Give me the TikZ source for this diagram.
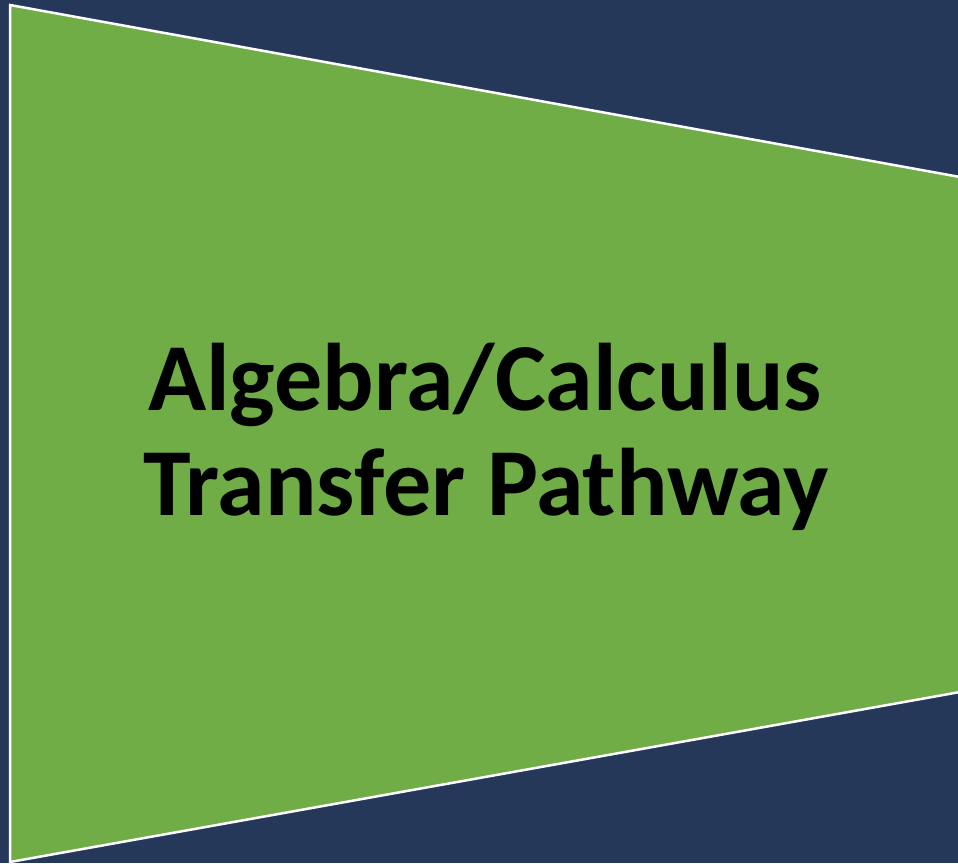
\documentclass[tikz,border=0pt]{standalone}
\usepackage{fontspec}
\setmainfont{Carlito}
\definecolor{navybg}{RGB}{37,56,90}
\definecolor{leafgreen}{RGB}{112,173,71}
\tikzset{
  funnel/.style={fill=leafgreen, draw=white, line width=2.5pt, line join=miter},
  titletext/.style={font=\bfseries\fontsize{96}{105}\selectfont, text=black, inner sep=0pt, anchor=base}
}
\begin{document}
\begin{tikzpicture}[x=1pt,y=-1pt]
  \fill[navybg] (0,0) rectangle (958,863);
  \useasboundingbox (0,0) rectangle (958,863);
  \coordinate (tl) at (10,5);
  \coordinate (tr) at (960,177);
  \coordinate (br) at (960,692);
  \coordinate (bl) at (10,862);
  \draw[funnel] (tl) -- (tr) -- (br) -- (bl) -- cycle;
  \node[titletext] (title1) at (485,410) {Algebra/Calculus};
  \node[titletext] (title2) at (486,515) {Transfer Pathway};
\end{tikzpicture}
\end{document}
